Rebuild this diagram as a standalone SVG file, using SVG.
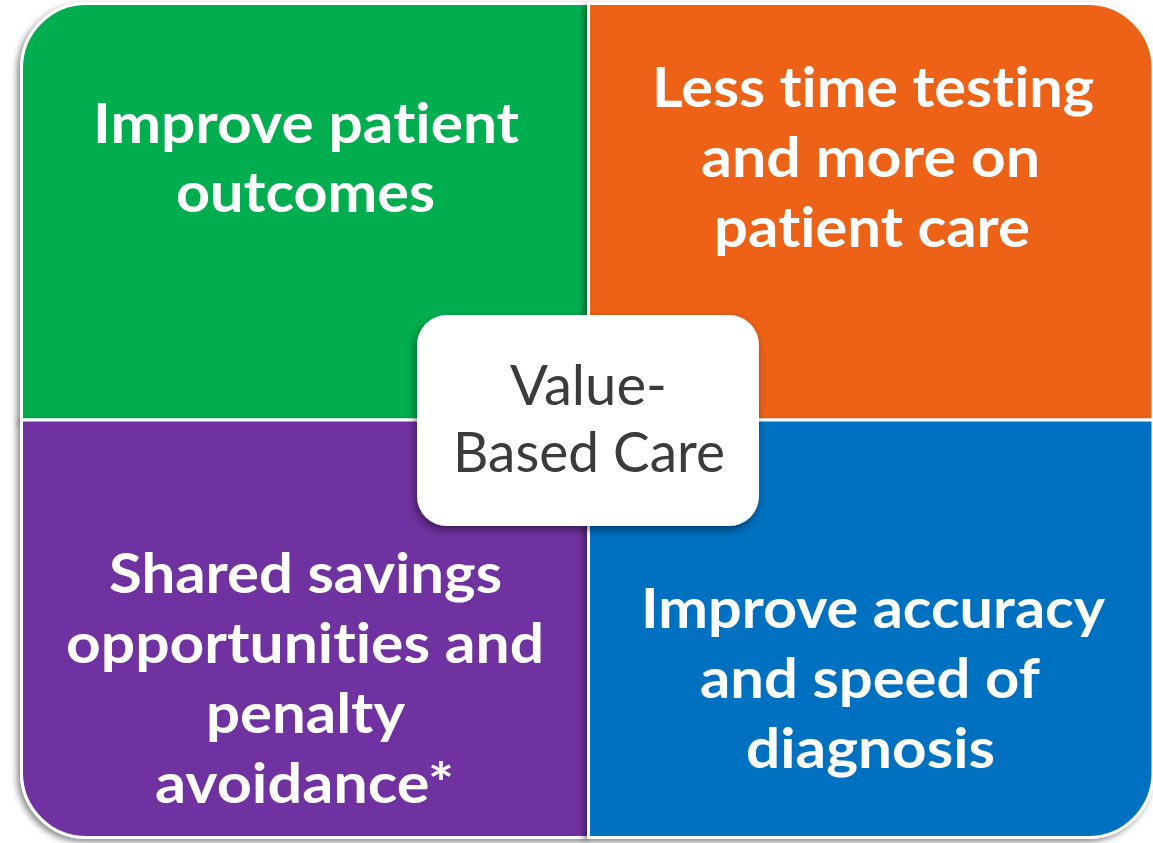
<svg xmlns="http://www.w3.org/2000/svg" width="1153" height="843" viewBox="0 0 1153 843">
  <defs>
    <filter id="qshadow" x="-10%" y="-10%" width="120%" height="120%">
      <feDropShadow dx="-3" dy="3" stdDeviation="3" flood-color="#000" flood-opacity="0.45"/>
    </filter>
    <filter id="cshadow" x="-10%" y="-10%" width="120%" height="130%">
      <feDropShadow dx="-2" dy="4" stdDeviation="4" flood-color="#000" flood-opacity="0.45"/>
    </filter>
  </defs>
  <style>
    .quad { stroke: #ffffff; stroke-width: 3; filter: url(#qshadow); }
    .qt { font-family: Lato, "Open Sans", sans-serif; font-weight: 700; font-size: 56px; fill: #ffffff; text-anchor: middle; font-variant-ligatures: none; font-feature-settings: "liga" 0, "clig" 0, "dlig" 0; }
    .ct { font-family: Lato, "Open Sans", sans-serif; font-weight: 400; font-size: 56px; fill: #3b3b3b; text-anchor: middle; font-variant-ligatures: none; font-feature-settings: "liga" 0, "clig" 0; }
  </style>
  <rect width="1153" height="843" fill="#ffffff"/>

  <g id="green">
    <path class="quad" fill="#00AE50" d="M21.5 420 L21.5 68.5 A65 65 0 0 1 86.5 3.5 L588.5 3.5 L588.5 420 Z"/>
    <text class="qt" x="306" y="143" textLength="426" lengthAdjust="spacingAndGlyphs">Improve patient</text>
    <text class="qt" x="305.5" y="212" textLength="259" lengthAdjust="spacingAndGlyphs">outcomes</text>
  </g>

  <g id="orange">
    <path class="quad" fill="#ED6216" d="M588.5 3.5 L1088 3.5 A65 65 0 0 1 1153 68.5 L1153 420 L588.5 420 Z"/>
    <text class="qt" x="873" y="107" textLength="442" lengthAdjust="spacingAndGlyphs">Less time testing</text>
    <text class="qt" x="870.5" y="177" textLength="339" lengthAdjust="spacingAndGlyphs">and more on</text>
    <text class="qt" x="872" y="247" textLength="316" lengthAdjust="spacingAndGlyphs">patient care</text>
  </g>

  <g id="purple">
    <path class="quad" fill="#7030A0" d="M21.5 420 L588.5 420 L588.5 837.5 L86.5 837.5 A65 65 0 0 1 21.5 772.5 Z"/>
    <text class="qt" x="305.5" y="593" textLength="393" lengthAdjust="spacingAndGlyphs">Shared savings</text>
    <text class="qt" x="305" y="663" textLength="478" lengthAdjust="spacingAndGlyphs">opportunities and</text>
    <text class="qt" x="305.5" y="733" textLength="199" lengthAdjust="spacingAndGlyphs">penalty</text>
    <text class="qt" x="304.5" y="803" textLength="299" lengthAdjust="spacingAndGlyphs">avoidance*</text>
  </g>

  <g id="blue">
    <path class="quad" fill="#0070C0" d="M588.5 420 L1153 420 L1153 772.5 A65 65 0 0 1 1088 837.5 L588.5 837.5 Z"/>
    <text class="qt" x="873" y="628" textLength="464" lengthAdjust="spacingAndGlyphs">Improve accuracy</text>
    <text class="qt" x="870" y="698" textLength="340" lengthAdjust="spacingAndGlyphs">and speed of</text>
    <text class="qt" x="870.5" y="768" textLength="249" lengthAdjust="spacingAndGlyphs">diagnosis</text>
  </g>

  <g id="center">
    <rect x="417" y="315" width="342" height="211" rx="30" ry="30" fill="#ffffff" filter="url(#cshadow)"/>
    <text class="ct" x="588.5" y="405" textLength="157" lengthAdjust="spacingAndGlyphs">Value-</text>
    <text class="ct" x="589" y="472" textLength="272" lengthAdjust="spacingAndGlyphs">Based Care</text>
  </g>

  <g id="connectors"></g>
</svg>
